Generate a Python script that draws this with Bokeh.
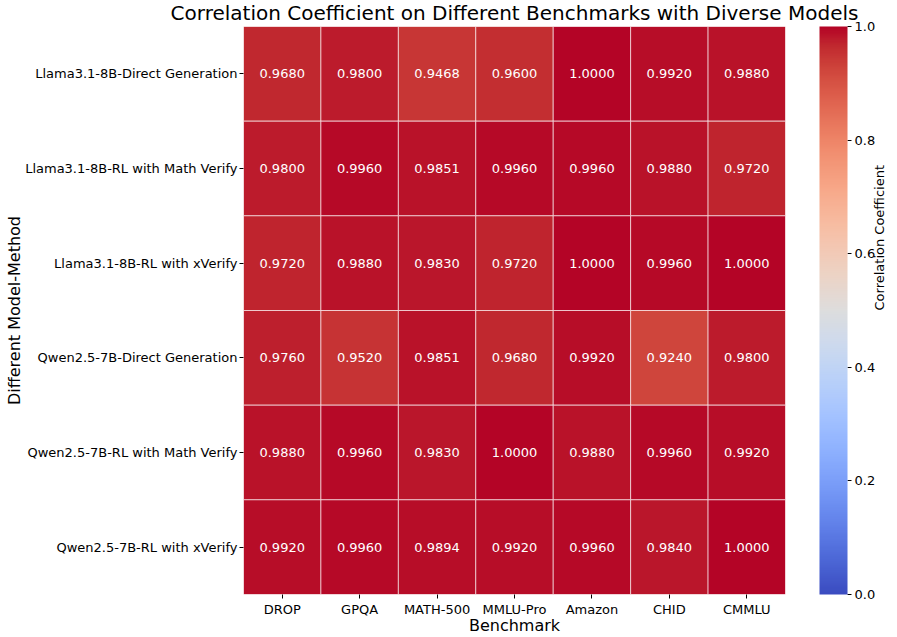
import math
from bokeh.plotting import figure
from bokeh.models import (ColumnDataSource, LinearColorMapper, ColorBar, LinearAxis, Label,
                          Range1d, FixedTicker, PrintfTickFormatter, GlobalInlineStyleSheet)
from bokeh.core.properties import value
from bokeh.embed import file_html
from bokeh.resources import INLINE

benchmarks = ["DROP", "GPQA", "MATH-500", "MMLU-Pro", "Amazon", "CHID", "CMMLU"]
methods = [
    "Llama3.1-8B-Direct Generation",
    "Llama3.1-8B-RL with Math Verify",
    "Llama3.1-8B-RL with xVerify",
    "Qwen2.5-7B-Direct Generation",
    "Qwen2.5-7B-RL with Math Verify",
    "Qwen2.5-7B-RL with xVerify",
]
llama_direct = [0.9680, 0.9800, 0.9468, 0.9600, 1.0000, 0.9920, 0.9880]
llama_rl_math = [0.9800, 0.9960, 0.9851, 0.9960, 0.9960, 0.9880, 0.9720]
llama_rl_xverify = [0.9720, 0.9880, 0.9830, 0.9720, 1.0000, 0.9960, 1.0000]
qwen_direct = [0.9760, 0.9520, 0.9851, 0.9680, 0.9920, 0.9240, 0.9800]
qwen_rl_math = [0.9880, 0.9960, 0.9830, 1.0000, 0.9880, 0.9960, 0.9920]
qwen_rl_xverify = [0.9920, 0.9960, 0.9894, 0.9920, 0.9960, 0.9840, 1.0000]
matrix = [llama_direct, llama_rl_math, llama_rl_xverify, qwen_direct, qwen_rl_math, qwen_rl_xverify]
cbar_ticks = [0.0, 0.2, 0.4, 0.6, 0.8, 1.0]

# coolwarm palette (Moreland anchor table), interpolated to 256 colours
anchors = [
    (59, 76, 192), (68, 90, 204), (77, 104, 215), (87, 117, 225), (98, 130, 234),
    (108, 142, 241), (119, 154, 247), (130, 165, 251), (141, 176, 254), (152, 185, 255),
    (163, 194, 255), (174, 201, 253), (184, 208, 249), (194, 213, 244), (204, 217, 238),
    (213, 219, 230), (221, 221, 221), (229, 216, 209), (236, 211, 197), (241, 204, 185),
    (245, 196, 173), (247, 187, 160), (247, 177, 148), (247, 166, 135), (244, 154, 123),
    (241, 141, 111), (236, 127, 99), (229, 112, 88), (222, 96, 77), (213, 80, 66),
    (203, 62, 56), (192, 40, 47), (180, 4, 38),
]
palette = []
n = 256
for i in range(n):
    t = i / (n - 1) * (len(anchors) - 1)
    k = min(int(t), len(anchors) - 2)
    f = t - k
    a, b = anchors[k], anchors[k + 1]
    c = [round(a[j] + (b[j] - a[j]) * f) for j in range(3)]
    palette.append("#%02x%02x%02x" % tuple(c))

nrows = len(methods)
row_pos = [nrows - 0.5 - r for r in range(nrows)]  # first method on top

xs, ys, vals, labels = [], [], [], []
for r, m in enumerate(methods):
    for c, bname in enumerate(benchmarks):
        xs.append(bname)
        ys.append(row_pos[r])
        vals.append(matrix[r][c])
        labels.append("%.4f" % matrix[r][c])
src = ColumnDataSource(dict(x=xs, y=ys, v=vals, label=labels))

mapper = LinearColorMapper(palette=palette, low=0.0, high=1.0)

FONT = "DejaVu Sans"
p = figure(width=897, height=637, x_range=benchmarks, y_range=Range1d(0, nrows),
           output_backend="svg", toolbar_location=None,
           title="Correlation Coefficient on Different Benchmarks with Diverse Models",
           min_border_left=243, min_border_right=111, min_border_top=23, min_border_bottom=43)
p.stylesheets.append(GlobalInlineStyleSheet(css="html,body{margin:0!important;padding:0;overflow:hidden;}"))

p.rect(x="x", y="y", width=1, height=1, source=src,
       fill_color={"field": "v", "transform": mapper},
       line_color="white", line_alpha=0.6, line_width=1)
p.text(x="x", y="y", text="label", source=src, text_align="center", text_baseline="middle",
       text_color="white", text_font=value(FONT), text_font_size="13px")

p.title.text_font = FONT
p.title.text_font_size = "20px"
p.title.text_font_style = "normal"
p.title.text_color = "black"
p.title.align = "center"
p.title.vertical_align = "top"
p.title.standoff = 0
p.title.offset = 0
if "padding" in p.title.properties():
    p.title.padding = 0
if "text_line_height" in p.title.properties():
    p.title.text_line_height = 0.9

p.grid.grid_line_color = None
p.outline_line_color = None
p.yaxis.ticker = FixedTicker(ticks=row_pos)
p.yaxis.major_label_overrides = {row_pos[r]: methods[r] for r in range(nrows)}
for ax in (p.xaxis, p.yaxis):
    ax.axis_line_color = None
    ax.major_tick_line_color = "black"
    ax.major_tick_out = 4
    ax.major_tick_in = 0
    ax.minor_tick_line_color = None
    ax.major_label_text_font = FONT
    ax.major_label_text_font_size = "13px"
    ax.major_label_text_color = "black"
    ax.axis_label_text_font = FONT
    ax.axis_label_text_font_size = "16px"
    ax.axis_label_text_font_style = "normal"
    ax.axis_label_text_color = "black"
p.xaxis.axis_label = "Benchmark"
p.yaxis.axis_label = "Different Model-Method"
p.xaxis.major_label_standoff = 3
p.xaxis.axis_label_standoff = -4
p.yaxis.major_label_standoff = 2
p.yaxis.axis_label_standoff = -2

p.extra_y_ranges = {"cb": Range1d(0, 1)}

# empty spacer between heatmap and colour bar
spacer = LinearAxis(y_range_name="cb", ticker=FixedTicker(ticks=[0.5]))
spacer.axis_line_color = None
spacer.major_tick_line_color = None
spacer.minor_tick_line_color = None
spacer.major_tick_out = 34
spacer.major_tick_in = 0
spacer.minor_tick_out = 0
spacer.major_label_standoff = 0
spacer.major_label_overrides = {0.5: ""}
spacer.major_label_text_font_size = "1px"
p.add_layout(spacer, "right")

color_bar = ColorBar(color_mapper=mapper, width=28, padding=0, margin=0,
                     ticker=FixedTicker(ticks=[]), major_label_text_font_size="0px",
                     major_tick_line_color=None, bar_line_color=None,
                     border_line_color=None, background_fill_alpha=0)
p.add_layout(color_bar, "right")

cb_axis = LinearAxis(y_range_name="cb", ticker=FixedTicker(ticks=cbar_ticks),
                     formatter=PrintfTickFormatter(format="%.1f"))
cb_axis.axis_line_color = None
cb_axis.major_tick_out = 4
cb_axis.major_tick_in = 0
cb_axis.major_tick_line_color = "black"
cb_axis.minor_tick_line_color = None
cb_axis.major_label_text_font = FONT
cb_axis.major_label_text_font_size = "13px"
cb_axis.major_label_text_color = "black"
cb_axis.major_label_standoff = 3
if "axis_label_orientation" in cb_axis.properties():
    cb_axis.axis_label = "Correlation Coefficient"
    cb_axis.axis_label_orientation = math.pi / 2
    cb_axis.axis_label_text_font = FONT
    cb_axis.axis_label_text_font_size = "13px"
    cb_axis.axis_label_text_font_style = "normal"
    cb_axis.axis_label_text_color = "black"
    cb_axis.axis_label_standoff = 1
else:
    p.add_layout(Label(x=8.26, y=nrows / 2, text="Correlation Coefficient", angle=math.pi / 2,
                       text_align="center", text_baseline="middle", text_font=FONT,
                       text_font_size="13px", text_color="black"))
p.add_layout(cb_axis, "right")

open("out.html", "w").write(file_html(p, INLINE))
